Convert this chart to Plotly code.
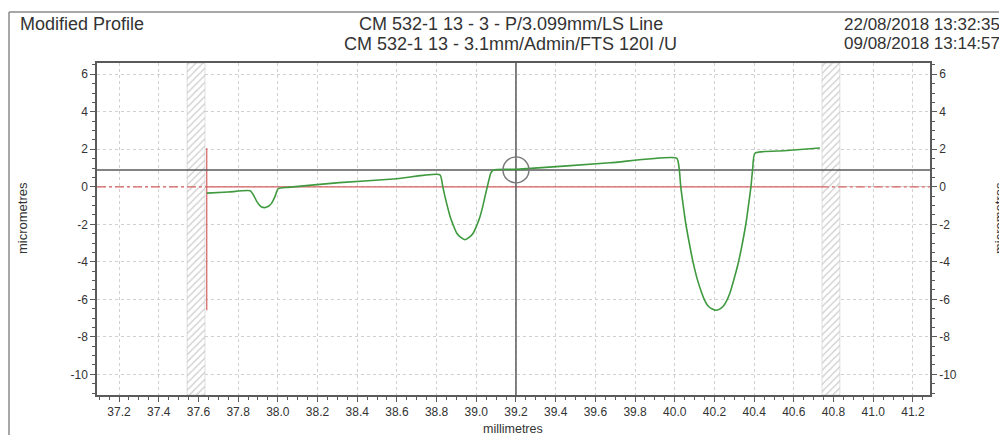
import plotly.graph_objects as go

# ---- data ----
profile_x = [37.642, 37.75, 37.86, 37.877, 37.894, 37.907, 37.919, 37.932, 37.944, 37.957,
             37.969, 37.986, 38.002, 38.05, 38.31, 38.6, 38.817, 38.831, 38.842, 38.855,
             38.868, 38.885, 38.901, 38.922, 38.943, 38.964, 38.985, 39.002, 39.019, 39.032,
             39.044, 39.060, 39.073, 39.086, 39.2, 39.674, 40.010, 40.023, 40.030, 40.042,
             40.055, 40.074, 40.093, 40.114, 40.136, 40.152, 40.169, 40.189, 40.208, 40.226,
             40.244, 40.261, 40.278, 40.299, 40.320, 40.340, 40.359, 40.372, 40.384, 40.392,
             40.404, 40.55, 40.731]
profile_y = [-0.34, -0.28, -0.21, -0.43, -0.78, -0.97, -1.08, -1.11, -1.08, -1.00,
             -0.87, -0.51, -0.10, -0.03, 0.22, 0.43, 0.64, 0.02, -0.51, -1.07,
             -1.58, -2.07, -2.46, -2.70, -2.82, -2.70, -2.46, -2.07, -1.58, -1.07,
             -0.51, 0.20, 0.73, 0.90, 0.93, 1.28, 1.53, 0.90, 0.02, -0.95,
             -1.93, -3.05, -4.06, -4.95, -5.66, -6.08, -6.37, -6.52, -6.58, -6.52,
             -6.37, -6.08, -5.66, -4.90, -4.06, -3.05, -1.93, -0.95, 0.02, 0.90,
             1.79, 1.92, 2.07]

cursor_x = 39.2
cursor_y = 0.9
hatch_bands = [(37.543, 37.633), (40.742, 40.832)]

x_range = [37.089, 41.286]
y_range = [-11.1, 6.6]
y_tickvals = [-10, -8, -6, -4, -2, 0, 2, 4, 6]
y_ticktext = ["-10", "-8", "-6", "-4", "-2", "0", "2", "4", "6"]

title_left = "Modified Profile"
title_mid = ["CM 532-1 13 - 3 - P/3.099mm/LS Line", "CM 532-1 13 - 3.1mm/Admin/FTS 120I /U"]
title_right = ["22/08/2018 13:32:35", "09/08/2018 13:14:57"]

FONT = "Liberation Sans, Arial, sans-serif"
RED = "#d45f5f"
GRAY = "#5a5a5a"
TXT = "#333333"

fig = go.Figure()

# hatched bands
for a, b in hatch_bands:
    fig.add_trace(go.Scatter(
        x=[a, b, b, a, a], y=[y_range[0], y_range[0], y_range[1], y_range[1], y_range[0]],
        fill="toself", mode="lines", line=dict(width=0.6, color="#c8c8c8"),
        fillcolor="rgba(0,0,0,0)",
        fillpattern=dict(shape="/", fgcolor="#9a9a9a", bgcolor="white", size=5, solidity=0.25),
        hoverinfo="skip", showlegend=False))

x0p, x1p = profile_x[0], profile_x[-1]
fig.add_trace(go.Scatter(x=[x_range[0], x0p], y=[0, 0], mode="lines",
                         line=dict(color=RED, width=1.2, dash="dashdot"), showlegend=False))
fig.add_trace(go.Scatter(x=[x1p, x_range[1]], y=[0, 0], mode="lines",
                         line=dict(color=RED, width=1.2, dash="dashdot"), showlegend=False))
fig.add_trace(go.Scatter(x=[x0p, x1p], y=[0, 0], mode="lines",
                         line=dict(color=RED, width=1.2), showlegend=False))
fig.add_trace(go.Scatter(x=[x0p, x0p], y=[max(profile_y), min(profile_y)], mode="lines",
                         line=dict(color=RED, width=1.2), showlegend=False))

# crosshair
fig.add_trace(go.Scatter(x=x_range, y=[cursor_y, cursor_y], mode="lines",
                         line=dict(color=GRAY, width=1.5), showlegend=False))
fig.add_trace(go.Scatter(x=[cursor_x, cursor_x], y=y_range, mode="lines",
                         line=dict(color=GRAY, width=1.5), showlegend=False))

# profile
fig.add_trace(go.Scatter(x=profile_x, y=profile_y, mode="lines",
                         line=dict(color="#3f9a3f", width=1.6, shape="spline", smoothing=0.5),
                         showlegend=False))

# cursor circle
fig.add_trace(go.Scatter(x=[cursor_x], y=[cursor_y], mode="markers",
                         marker=dict(symbol="circle-open", size=26, color="#777777",
                                     line=dict(width=1.4, color="#777777")),
                         showlegend=False))

# invisible trace for right axis
fig.add_trace(go.Scatter(x=[x_range[0]], y=[0], yaxis="y2", mode="markers",
                         marker=dict(opacity=0), showlegend=False, hoverinfo="skip"))

axis_common = dict(showline=True, linecolor=GRAY, linewidth=1.5,
                   ticks="outside", ticklen=5, tickcolor=GRAY,
                   tickfont=dict(family=FONT, size=12, color=TXT),
                   zeroline=False, automargin=False)

# page is offset by 8px body margin; figure spans page x 8..1007, y 8..435
fig.update_layout(
    width=999, height=427,
    margin=dict(l=89, r=77, t=55, b=40),
    paper_bgcolor="white", plot_bgcolor="white",
    font=dict(family=FONT, color=TXT),
    showlegend=False,
    xaxis=dict(range=x_range, dtick=0.2, tick0=37.2, tickformat=".1f",
               mirror=True, showgrid=True, gridcolor="#d0d0d0", griddash="dot", gridwidth=1,
               minor=dict(dtick=0.05, tick0=37.2, ticks="outside", ticklen=3, tickcolor=GRAY,
                          showgrid=False),
               **axis_common),
    yaxis=dict(range=y_range, tickvals=y_tickvals, ticktext=y_ticktext,
               mirror=True, showgrid=True, gridcolor="#d0d0d0", griddash="dot", gridwidth=1,
               minor=dict(dtick=0.5, tick0=0, ticks="outside", ticklen=3, tickcolor=GRAY,
                          showgrid=False),
               **axis_common),
    yaxis2=dict(range=y_range, tickvals=y_tickvals, ticktext=y_ticktext, overlaying="y",
                side="right", showgrid=False,
                minor=dict(dtick=0.5, tick0=0, ticks="outside", ticklen=3, tickcolor=GRAY),
                **axis_common),
)

# page-pixel -> paper coordinates (plot area spans page x 97..930, y 63..395)
PW, PH = 833.0, 332.0
def px(x):
    return (x - 97) / PW
def py(y):
    return (395 - y) / PH

annots = [
    dict(text=title_left, x=px(18), y=py(24), xanchor="left", size=18),
    dict(text=title_mid[0], x=px(511), y=py(24), xanchor="center", size=18),
    dict(text=title_mid[1], x=px(510), y=py(44), xanchor="center", size=18),
    dict(text=title_right[0], x=px(842), y=py(24), xanchor="left", size=17),
    dict(text=title_right[1], x=px(842), y=py(44), xanchor="left", size=17),
    dict(text="millimetres", x=px(513), y=py(429), xanchor="center", size=12.5),
]
for a in annots:
    fig.add_annotation(text=a["text"], x=a["x"], y=a["y"], xref="paper", yref="paper",
                       xanchor=a["xanchor"], yanchor="middle", showarrow=False,
                       font=dict(family=FONT, size=a["size"], color=TXT))
for xp_ in (22, 999):
    fig.add_annotation(text="micrometres", x=px(xp_), y=py(218), xref="paper", yref="paper",
                       xanchor="center", yanchor="middle", showarrow=False, textangle=-90,
                       font=dict(family=FONT, size=13, color=TXT))

# outer frame
fig.add_shape(type="line", xref="paper", yref="paper", x0=px(9), x1=px(1010), y0=py(12), y1=py(12),
              line=dict(color="#8a8a8a", width=1.5))
fig.add_shape(type="line", xref="paper", yref="paper", x0=px(9), x1=px(9), y0=py(12), y1=py(440),
              line=dict(color="#8a8a8a", width=1.5))

fig.write_html("out.html")
